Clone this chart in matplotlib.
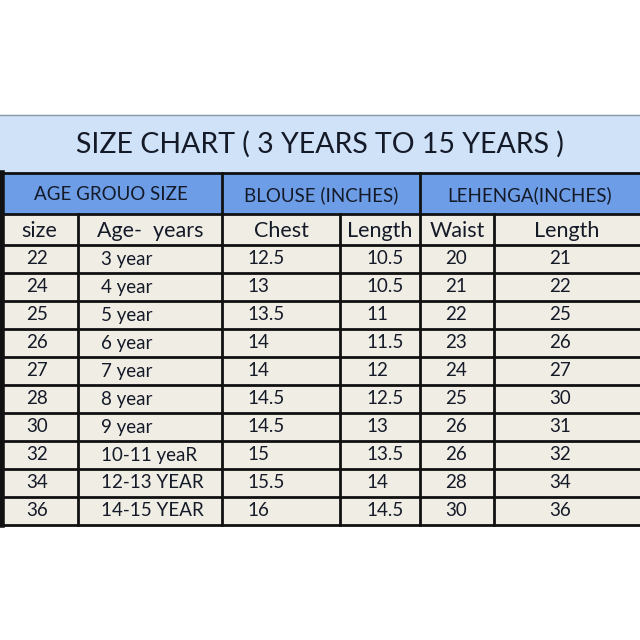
import matplotlib.pyplot as plt
from matplotlib.patches import Rectangle

title = "SIZE CHART ( 3 YEARS TO 15 YEARS )"
groups = ["AGE GROUO SIZE", "BLOUSE (INCHES)", "LEHENGA(INCHES)"]
columns = ["size", "Age-  years", "Chest", "Length", "Waist", "Length"]
sizes = ["22", "24", "25", "26", "27", "28", "30", "32", "34", "36"]
ages = ["3 year", "4 year", "5 year", "6 year", "7 year", "8 year",
        "9 year", "10-11 yeaR", "12-13 YEAR", "14-15 YEAR"]
chest = ["12.5", "13", "13.5", "14", "14", "14.5", "14.5", "15", "15.5", "16"]
blouse_len = ["10.5", "10.5", "11", "11.5", "12", "12.5", "13", "13.5", "14", "14.5"]
waist = ["20", "21", "22", "23", "24", "25", "26", "26", "28", "30"]
lehenga_len = ["21", "22", "25", "26", "27", "30", "31", "32", "34", "36"]

plt.rcParams['font.family'] = ['Lato', 'DejaVu Sans']
txt = "#151a28"

fig = plt.figure(figsize=(6.4, 6.4), dpi=100)
ax = fig.add_axes([0, 0, 1, 1])
ax.set_xlim(0, 640)
ax.set_ylim(640, 0)
ax.axis("off")

# layout (pixels)
col_edges = [0, 78, 222, 340, 420, 494, 640]
group_edges = [0, 222, 420, 640]
title_top, title_bot = 115, 173
head_bot, sub_bot = 214, 245
row_h = 28
table_bot = sub_bot + row_h * len(sizes)

ax.add_patch(Rectangle((0, title_top), 640, title_bot - title_top, color="#cfe2f7", zorder=0))
ax.add_patch(Rectangle((0, title_bot), 640, head_bot - title_bot, color="#6c9de6", zorder=0))
ax.add_patch(Rectangle((0, head_bot), 640, table_bot - head_bot, color="#f0ede5", zorder=0))

ax.text(320, 144, title, ha="center", va="center", fontsize=20.5, color=txt)

for i, g in enumerate(groups):
    ax.text((group_edges[i] + group_edges[i + 1]) / 2, 195, g,
            ha="center", va="center", fontsize=13.5, color=txt)

for i, c in enumerate(columns):
    ax.text((col_edges[i] + col_edges[i + 1]) / 2, 231, c,
            ha="center", va="center", fontsize=15.5, color=txt)

# data rows, left-aligned like the source
lefts = [26, 101, 247, 366, 445, 549]
data = [sizes, ages, chest, blouse_len, waist, lehenga_len]
for j, col in enumerate(data):
    for r, v in enumerate(col):
        y = sub_bot + row_h * (r + 0.5)
        ax.text(lefts[j], y, v, ha="left", va="center", fontsize=13.5, color=txt)

# grid lines
ax.plot([0, 640], [title_top, title_top], color="#8a9aaa", lw=1)
for y in [title_bot, head_bot, sub_bot] + [sub_bot + row_h * (k + 1) for k in range(len(sizes))]:
    ax.plot([0, 640], [y, y], color="#111111", lw=2)
for x in group_edges[1:-1]:
    ax.plot([x, x], [title_bot, head_bot], color="#111111", lw=2)
for x in col_edges[1:-1]:
    ax.plot([x, x], [head_bot, table_bot], color="#111111", lw=2)
ax.plot([2, 2], [title_bot, table_bot], color="#111111", lw=4)

fig.savefig("out.png", dpi=100)
